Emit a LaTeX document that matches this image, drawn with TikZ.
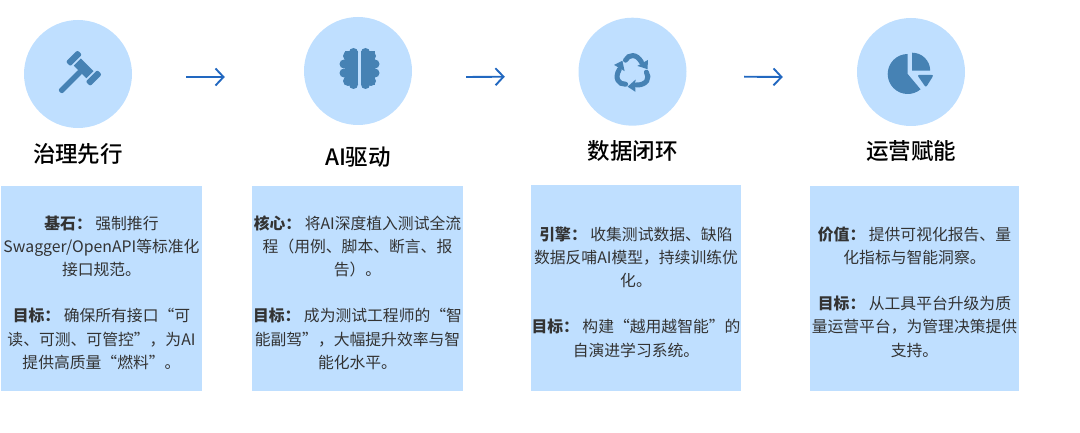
\documentclass[tikz,border=0pt]{standalone}
\usepackage{fontspec}
\setmainfont{Noto Sans CJK SC}
\newfontfamily\titlefont{Noto Sans CJK SC Medium}
\usetikzlibrary{positioning, arrows.meta}

\definecolor{paleblue}{HTML}{BFDFFF}
\definecolor{iconblue}{HTML}{4682B4}
\definecolor{arrowblue}{HTML}{2268C0}
\definecolor{bodyink}{HTML}{333333}

\begin{document}
\begin{tikzpicture}[x=1pt, y=1pt, >={Straight Barb[length=8pt,width=17pt]}]

\tikzset{
  iconcircle/.style={circle, fill=paleblue, minimum size=108pt, inner sep=0pt},
  title/.style={inner sep=0pt, font=\fontsize{22.5}{24}\titlefont, text=black},
  infobox/.style={rectangle, fill=paleblue, inner sep=0pt},
  infotext/.style={align=center, inner sep=0pt, text=bodyink,
    font=\fontsize{15.8}{23.2}\selectfont},
  arrow/.style={->, line width=1.9pt, arrowblue},
  iconfill/.style={fill=iconblue}
}

\useasboundingbox (0,0) rectangle (1080,432);

% ==========================
% Top row: icons + titles
% ==========================
\node[iconcircle] (govicon) at (78,358) {};
\node[iconcircle] (aiicon) at (358,361) {};
\node[iconcircle] (dataicon) at (632.5,360.3) {};
\node[iconcircle] (opsicon) at (911,360) {};

\node[title, below=15pt of govicon] (govtitle) {治理先行};
\node[title, below=21pt of aiicon] (aititle) {AI驱动};
\node[title, below=14pt of dataicon] (datatitle) {数据闭环};
\node[title, below=14pt of opsicon] (opstitle) {运营赋能};

\draw[arrow] ([shift={(54,-3)}]govicon.east) -- ([shift={(-79,-6)}]aiicon.west);
\draw[arrow] ([shift={(54,-6)}]aiicon.east) -- ([shift={(-73.5,-5)}]dataicon.west);
\draw[arrow] ([shift={(57.5,-5)}]dataicon.east) -- ([shift={(-74,-5)}]opsicon.west);

% ==========================
% Icons
% ==========================
% gavel
\begin{scope}[shift={(govicon.center)}, rotate=45]
  \fill[iconfill, rounded corners=2pt] (-25.5,-2.8) rectangle (4,2.8);
  \fill[iconfill] (3,-9) rectangle (13,9);
  \fill[iconfill, rounded corners=2pt] (0,10.8) rectangle (16.5,17.2);
  \fill[iconfill, rounded corners=2pt] (0,-17.2) rectangle (16.5,-10.8);
\end{scope}

% brain
\foreach \side in {1,-1} {
  \begin{scope}[shift={(aiicon.center)}, shift={(1.5,2.5)}, xscale=\side]
    \fill[iconfill] (1.5,-17) rectangle (15,17);
    \foreach \bx/\by/\br in {6/16/4.5, 11.5/12.5/5, 15.5/4.5/4.5, 15.5/-4.5/4.5, 11.5/-12.5/5, 6/-16/4.5} {
      \fill[iconfill] (\bx,\by) circle (\br);
    }
  \end{scope}
}

% recycle
\foreach \turn in {0,120,240} {
  \begin{scope}[shift={(dataicon.center)}, shift={(0,-0.5)}, rotate=\turn]
    \draw[iconblue, line width=5pt, line cap=round] (-7,12) .. controls (-4,18) and (4,19) .. (9,10);
    \fill[iconfill] (15.5,12.3) -- (4.9,6.3) -- (15,3) -- cycle;
  \end{scope}
}

% pie
\begin{scope}[shift={(opsicon.center)}]
  \fill[iconfill] (-3.3,-2) -- ++(90:20) arc[start angle=90, end angle=310, radius=20] -- cycle;
  \fill[iconfill] (1.2,1.3) -- ++(90:18) arc[start angle=90, end angle=0, radius=18] -- cycle;
  \fill[iconfill, rounded corners=2pt] (6.2,-3) -- (22.7,-3) -- (14.9,-15.5) -- cycle;
\end{scope}

% ==========================
% Bottom row: text boxes
% ==========================
\node[infobox, minimum width=201pt, minimum height=205pt] (govbox) at (101.5,143.5) {};
\node[infobox, minimum width=211pt, minimum height=205pt] (aibox) at (357.5,143.5) {};
\node[infobox, minimum width=210pt, minimum height=206pt] (databox) at (636,144) {};
\node[infobox, minimum width=209pt, minimum height=205pt] (opsbox) at (914.5,143.5) {};

\node[infotext, yshift=-4pt] (govtext) at (govbox) {%
\textbf{基石：} 强制推行\\
Swagger/OpenAPI等标准化\\
接口规范。\\[23.2pt]
\textbf{目标：} 确保所有接口“可\\
读、可测、可管控”，为AI\\
提供高质量“燃料”。};

\node[infotext, yshift=-4pt] (aitext) at (aibox) {%
\textbf{核心：} 将AI深度植入测试全流\\
程（用例、脚本、断言、报\\
告）。\\[23.2pt]
\textbf{目标：} 成为测试工程师的“智\\
能副驾”，大幅提升效率与智\\
能化水平。};

\node[infotext, yshift=-4pt] (datatext) at (databox) {%
\textbf{引擎：} 收集测试数据、缺陷\\
数据反哺AI模型，持续训练优\\
化。\\[23.2pt]
\textbf{目标：} 构建“越用越智能”的\\
自演进学习系统。};

\node[infotext, yshift=-3.5pt] (opstext) at (opsbox) {%
\textbf{价值：} 提供可视化报告、量\\
化指标与智能洞察。\\[23.2pt]
\textbf{目标：} 从工具平台升级为质\\
量运营平台，为管理决策提供\\
支持。};

\end{tikzpicture}
\end{document}
